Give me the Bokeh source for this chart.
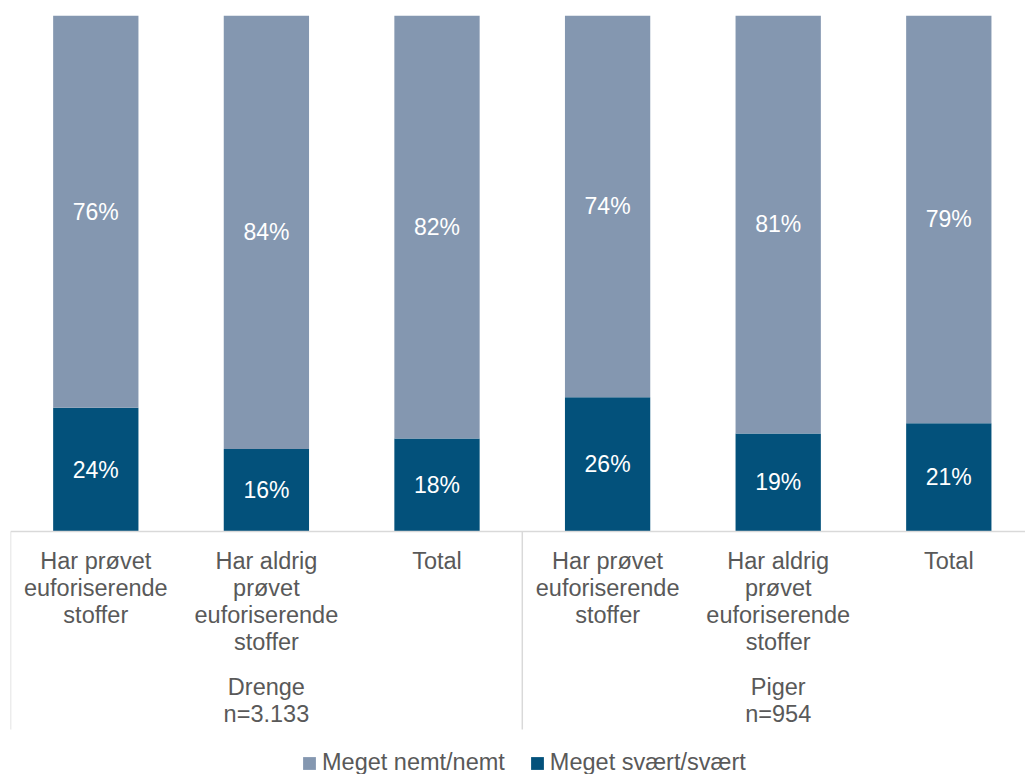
from bokeh.plotting import figure
from bokeh.models import Range1d, Span, Legend, LegendItem, ColumnDataSource
from bokeh.core.properties import value
from bokeh.embed import file_html
from bokeh.resources import INLINE

# ---- data ----
categories = [
    "Har prøvet\neuforiserende\nstoffer",
    "Har aldrig\nprøvet\neuforiserende\nstoffer",
    "Total",
    "Har prøvet\neuforiserende\nstoffer",
    "Har aldrig\nprøvet\neuforiserende\nstoffer",
    "Total",
]
groups = ["Drenge\nn=3.133", "Piger\nn=954"]
group_sizes = [3, 3]
easy = [76, 84, 82, 74, 81, 79]   # Meget nemt/nemt
hard = [24, 16, 18, 26, 19, 21]   # Meget svært/svært
series_names = ["Meget nemt/nemt", "Meget svært/svært"]

# ---- style ----
LIGHT = "#8497B0"
DARK = "#03517B"
GRAYTXT = "#595959"
LINEC = "#D9D9D9"
FONT = "Liberation Sans"
PX = 1.0 / 516.0          # data units per pixel (y)
FRAME_H = 759
Y_BOTTOM = 1.0 - FRAME_H * PX

n = len(categories)
xs = [i + 0.5 for i in range(n)]
hard_f = [v / 100 for v in hard]
easy_f = [v / 100 for v in easy]

src = ColumnDataSource(dict(x=xs, hard=hard_f, easy=easy_f))

p = figure(width=1025, height=774,
           x_range=Range1d(0, 1015 / 170.6), y_range=Range1d(Y_BOTTOM, 1.0),
           output_backend="svg", toolbar_location=None,
           x_axis_location=None, y_axis_location=None,
           min_border_left=10, min_border_right=0, min_border_top=15, min_border_bottom=0)
p.outline_line_color = None
p.xgrid.visible = False
p.ygrid.visible = False
p.background_fill_color = "white"

rs = p.vbar_stack(["hard", "easy"], x="x", width=0.5, source=src,
                  fill_color=[DARK, LIGHT], line_color=None)

# axis line & group separators
p.add_layout(Span(location=0, dimension="width", line_color=LINEC, line_width=1.5))
bounds = [0]
for g in group_sizes[:-1]:
    bounds.append(bounds[-1] + g)
sep_bottom = -(729 - 531) * PX
p.segment(x0=bounds, y0=[0] * len(bounds), x1=bounds, y1=[sep_bottom] * len(bounds),
          line_color=LINEC, line_width=1.5)

# value labels
p.text(x=xs, y=[h / 2 for h in hard_f], text=[f"{v}%" for v in hard],
       text_align="center", text_baseline="middle", text_color="white",
       text_font=value(FONT), text_font_size="23px")
p.text(x=xs, y=[h + e / 2 for h, e in zip(hard_f, easy_f)], text=[f"{v}%" for v in easy],
       text_align="center", text_baseline="middle", text_color="white",
       text_font=value(FONT), text_font_size="23px")

# category labels
p.text(x=xs, y=[0] * n, text=categories, y_offset=16,
       text_align="center", text_baseline="top", text_color=GRAYTXT,
       text_font=value(FONT), text_font_size="23.5px", text_line_height=1.05)

# group labels
gx = []
start = 0
for g in group_sizes:
    gx.append(start + g / 2)
    start += g
p.text(x=gx, y=[0] * len(gx), text=groups, y_offset=142,
       text_align="center", text_baseline="top", text_color=GRAYTXT,
       text_font=value(FONT), text_font_size="23.5px", text_line_height=1.05)

legend = Legend(items=[LegendItem(label=series_names[0], renderers=[rs[1]]),
                       LegendItem(label=series_names[1], renderers=[rs[0]])],
                location=(291, -2), orientation="horizontal", padding=5, spacing=24,
                glyph_width=16, glyph_height=16, label_standoff=5,
                label_text_font=FONT, label_text_font_size="23.5px",
                label_text_color=GRAYTXT, border_line_color=None,
                background_fill_alpha=0, margin=0)
p.add_layout(legend)

open("out.html", "w").write(file_html(p, INLINE))
